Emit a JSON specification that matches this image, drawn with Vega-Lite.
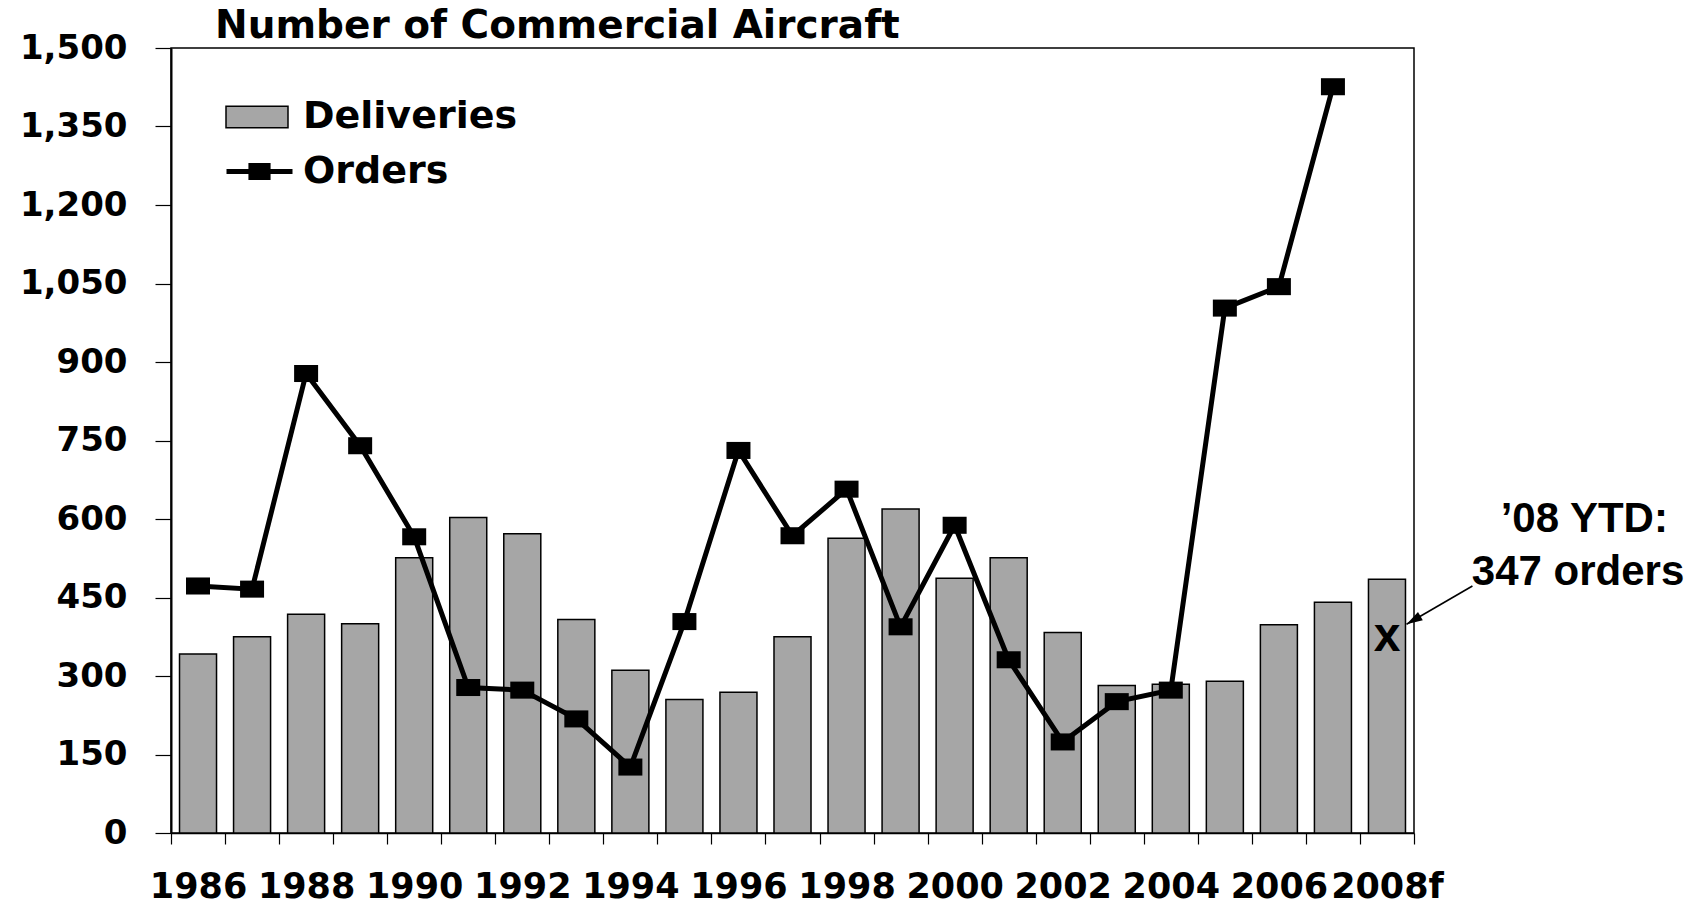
{
  "$schema": "https://vega.github.io/schema/vega-lite/v6.json",
  "width": 1243,
  "height": 785,
  "autosize": {"type": "none"},
  "padding": {"left": 171, "top": 48, "right": 287, "bottom": 76},
  "background": "white",
  "config": {
    "view": {"stroke": "black", "strokeWidth": 1.5},
    "axis": {
      "grid": false,
      "domainColor": "black",
      "tickColor": "black",
      "labelColor": "black",
      "labelFont": "DejaVu Sans",
      "labelFontWeight": "bold",
      "domainWidth": 1.5,
      "tickWidth": 1.2
    }
  },
  "datasets": {
    "main": [
      {"year": "1986", "deliveries": 342, "orders": 472},
      {"year": "1987", "deliveries": 375, "orders": 466},
      {"year": "1988", "deliveries": 418, "orders": 878},
      {"year": "1989", "deliveries": 400, "orders": 740},
      {"year": "1990", "deliveries": 526, "orders": 566},
      {"year": "1991", "deliveries": 603, "orders": 278},
      {"year": "1992", "deliveries": 572, "orders": 273},
      {"year": "1993", "deliveries": 408, "orders": 218},
      {"year": "1994", "deliveries": 311, "orders": 126},
      {"year": "1995", "deliveries": 255, "orders": 404},
      {"year": "1996", "deliveries": 269, "orders": 731},
      {"year": "1997", "deliveries": 375, "orders": 568},
      {"year": "1998", "deliveries": 563, "orders": 657},
      {"year": "1999", "deliveries": 619, "orders": 394},
      {"year": "2000", "deliveries": 487, "orders": 588},
      {"year": "2001", "deliveries": 526, "orders": 331},
      {"year": "2002", "deliveries": 383, "orders": 174},
      {"year": "2003", "deliveries": 282, "orders": 251},
      {"year": "2004", "deliveries": 284, "orders": 273},
      {"year": "2005", "deliveries": 290, "orders": 1003},
      {"year": "2006", "deliveries": 398, "orders": 1044},
      {"year": "2007", "deliveries": 441, "orders": 1426},
      {"year": "2008f", "deliveries": 485, "orders": null}
    ],
    "ytd": [{"year": "2008f", "ytd": 347, "label": "x"}],
    "heading": [{"px": 0.0354, "py": 1520, "label": "Number of Commercial Aircraft"}],
    "note": [
      {"px": 1.137, "py": 600, "label": "’08 YTD:"},
      {"px": 1.132, "py": 499, "label": "347 orders"}
    ],
    "arrow": [{"ax": 1.047, "ay": 472, "bx": 0.994, "by": 399}]
  },
  "layer": [
    {
      "data": {"name": "main"},
      "layer": [
        {
          "mark": {"type": "bar", "stroke": "black", "strokeWidth": 1.5, "width": {"band": 0.685}, "opacity": 1},
          "encoding": {
            "x": {
              "field": "year", "type": "nominal",
              "scale": {"paddingInner": 0, "paddingOuter": 0},
              "axis": {
                "title": null,
                "tickBand": "extent",
                "tickSize": 11,
                "labelPadding": 25,
                "labelFontSize": 35,
                "labelAngle": 0,
                "labelOverlap": false,
                "labelExpr": "test(/[13579]$/, datum.value) ? '' : datum.label"
              }
            },
            "y": {
              "field": "deliveries", "type": "quantitative",
              "scale": {"domain": [0, 1500], "nice": false},
              "axis": {
                "title": null,
                "values": [0, 150, 300, 450, 600, 750, 900, 1050, 1200, 1350, 1500],
                "format": ",d",
                "tickSize": 16,
                "labelPadding": 28,
                "labelFontSize": 34,
                "domainWidth": 2
              }
            },
            "fill": {
              "datum": "Deliveries", "type": "nominal",
              "scale": {"range": ["#a6a6a6"]},
              "legend": {
                "title": null, "orient": "none", "legendX": 54, "legendY": 37, "padding": 0,
                "labelFont": "DejaVu Sans", "labelFontWeight": "bold", "labelFontSize": 38,
                "labelColor": "black", "labelLimit": 500, "labelOffset": 14,
                "symbolType": "M-1,-0.35H1V0.35H-1Z", "symbolSize": 3844,
                "symbolFillColor": "#a6a6a6", "symbolStrokeColor": "black", "symbolStrokeWidth": 1.5,
                "symbolOpacity": 1
              }
            }
          }
        },
        {
          "mark": {"type": "line", "strokeWidth": 5},
          "encoding": {
            "x": {"field": "year", "type": "nominal"},
            "y": {"field": "orders", "type": "quantitative", "title": null, "scale": {"domain": [0, 1500], "nice": false}},
            "stroke": {
              "datum": "Orders", "type": "nominal",
              "scale": {"range": ["#000000"]},
              "legend": {
                "title": null, "orient": "none", "legendX": 53, "legendY": 88, "padding": 0,
                "labelFont": "DejaVu Sans", "labelFontWeight": "bold", "labelFontSize": 38,
                "labelColor": "black", "labelLimit": 500, "labelOffset": 8,
                "symbolType": "M-1,0H1M-0.26,-0.18H0.26V0.18H-0.26Z", "symbolSize": 4356,
                "symbolStrokeWidth": 5, "symbolFillColor": "black", "symbolStrokeColor": "black",
                "symbolOpacity": 1,
                "encode": {"symbols": {"update": {"fill": {"value": "black"}, "stroke": {"value": "black"}, "strokeWidth": {"value": 5}}}}
              }
            }
          }
        },
        {
          "mark": {"type": "point", "shape": "M-1,-0.71H1V0.71H-1Z", "filled": true, "color": "black", "size": 576, "opacity": 1},
          "encoding": {
            "x": {"field": "year", "type": "nominal"},
            "y": {"field": "orders", "type": "quantitative", "title": null, "scale": {"domain": [0, 1500], "nice": false}}
          }
        },
        {
          "data": {"name": "ytd"},
          "mark": {"type": "text", "font": "Liberation Sans", "fontWeight": "bold", "fontSize": 48, "baseline": "alphabetic", "align": "center", "color": "black"},
          "encoding": {
            "x": {"field": "year", "type": "nominal"},
            "y": {"field": "ytd", "type": "quantitative", "title": null, "scale": {"domain": [0, 1500], "nice": false}},
            "text": {"field": "label"}
          }
        }
      ]
    },
    {
      "layer": [
        {
          "data": {"name": "heading"},
          "mark": {"type": "text", "font": "DejaVu Sans", "fontWeight": "bold", "fontSize": 39, "baseline": "alphabetic", "align": "left", "color": "black"},
          "encoding": {
            "x": {"field": "px", "type": "quantitative", "scale": {"domain": [0, 1], "nice": false, "zero": false}, "axis": null},
            "y": {"field": "py", "type": "quantitative", "title": null, "scale": {"domain": [0, 1500], "nice": false}},
            "text": {"field": "label"}
          }
        },
        {
          "data": {"name": "note"},
          "mark": {"type": "text", "font": "Liberation Sans", "fontWeight": "bold", "fontSize": 42, "baseline": "middle", "align": "center", "color": "black"},
          "encoding": {
            "x": {"field": "px", "type": "quantitative", "scale": {"domain": [0, 1], "nice": false, "zero": false}, "axis": null},
            "y": {"field": "py", "type": "quantitative", "title": null, "scale": {"domain": [0, 1500], "nice": false}},
            "text": {"field": "label"}
          }
        },
        {
          "data": {"name": "arrow"},
          "mark": {"type": "rule", "strokeWidth": 1.6, "color": "black"},
          "encoding": {
            "x": {"field": "ax", "type": "quantitative", "scale": {"domain": [0, 1], "nice": false, "zero": false}, "axis": null},
            "x2": {"field": "bx"},
            "y": {"field": "ay", "type": "quantitative", "title": null, "scale": {"domain": [0, 1500], "nice": false}},
            "y2": {"field": "by"}
          }
        },
        {
          "data": {"name": "arrow"},
          "mark": {"type": "point", "shape": "M0,0L-0.6,2L0.6,2Z", "filled": true, "color": "black", "size": 256, "angle": 240, "opacity": 1},
          "encoding": {
            "x": {"field": "bx", "type": "quantitative", "scale": {"domain": [0, 1], "nice": false, "zero": false}, "axis": null},
            "y": {"field": "by", "type": "quantitative", "title": null, "scale": {"domain": [0, 1500], "nice": false}}
          }
        }
      ]
    }
  ],
  "resolve": {"scale": {"x": "independent"}}
}
